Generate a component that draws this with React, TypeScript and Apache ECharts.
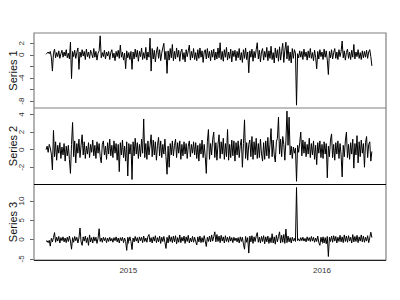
import React, { useEffect, useRef } from "react";
import * as echarts from "echarts";

const DAY = 86400000;
const startDate = Date.UTC(2014, 6, 30);
const stepDays = 2;

const seriesNames = ["Series 1", "Series 2", "Series 3"];

const series1 = [
  0.1, 0.3, 0.5, 0.2, 0.6, -0.4, -2.8, 0.3, 1.0, -0.5, 0.4, -0.3, 0.7, -0.6, 0.2, 0.8, -0.4, 0.5, -0.2, 0.9,
  -0.5, 0.3, -0.7, 2.2, -4.1, 0.6, -0.3, 0.8, -0.6, 0.4, 1.2, -2.5, 0.5, -0.4, 0.9, -0.2, 0.6, -0.8, 1.0, -0.3,
  0.5, -0.6, 0.8, 0.2, -0.5, 1.1, -0.4, 0.6, -0.9, 0.3, 0.7, 3.3, -0.5, 0.4, -0.3, 0.8, -0.7, 0.5, -0.2, 0.6,
  -0.8, 0.4, 0.9, -0.5, 0.3, -1.0, 0.6, -0.3, 0.8, -0.6, 1.7, -0.4, 0.5, -0.9, 0.3, -2.4, 0.7, -0.5, 0.4, -0.8,
  0.6, -2.5, 0.5, -0.7, 1.0, -0.4, 0.8, -1.1, 0.6, -0.3, 1.2, -0.8, 0.4, -0.6, 1.3, -0.9, 0.5, -0.4, 2.9, -2.8,
  1.1, -0.7, 0.8, -1.2, 0.5, 1.4, -0.6, 0.9, -1.0, 0.3, 1.2, 2.0, -0.8, 0.6, -3.2, 0.7, -0.9, 1.1, -0.5, 1.8,
  -1.0, 0.6, -0.7, 1.2, -0.4, 0.8, -1.1, 0.5, 1.0, -0.8, 0.4, -1.2, 0.9, -0.3, 0.7, 1.7, -0.9, 0.6, -0.5, 1.1,
  -0.8, 0.4, -1.0, 0.9, -0.6, 1.2, -0.4, 0.7, -1.3, 0.5, 0.9, -0.7, 1.1, -0.5, 0.6, -1.0, 0.8, -0.4, 1.0, -0.9,
  0.5, -0.7, 1.2, -0.5, 2.1, -0.8, 0.6, -1.1, 0.9, -0.4, 1.3, -0.9, 0.5, -0.6, 1.0, -1.2, 0.7, -0.3, 0.8, -1.0,
  0.6, -0.5, 1.1, -0.9, 0.4, -1.3, 0.9, -0.6, 1.2, -0.8, 0.5, -3.1, 0.7, -0.4, 1.0, -1.1, 0.6, -0.5, 0.9, 2.1,
  -0.7, 0.8, -1.2, 0.5, 1.1, -0.9, 0.6, -0.4, 1.3, -1.0, 0.7, -0.6, 1.5, -0.8, 0.4, -1.4, 1.2, -0.5, 0.9, -1.1,
  1.4, -0.9, 0.6, 2.0, -1.3, 0.8, 2.2, -0.7, 1.6, -1.0, 0.5, -1.4, 1.1, -0.6, 0.9, 0.3, -8.7, 0.2, -0.5, 0.7,
  -0.4, 0.6, -0.8, 1.0, -0.3, 0.5, -0.9, 0.7, -0.5, 1.1, -0.6, 0.4, -1.0, 0.8, -0.4, -2.4, 0.6, -0.7, 0.9, -0.3,
  0.5, -0.8, 1.0, -0.4, 0.7, -0.9, -3.4, 0.6, -0.5, 0.9, -0.7, 0.4, 1.1, -0.6, 0.5, -0.8, 0.9, -0.3, 0.6, 2.4,
  -0.5, 0.7, -0.9, 0.4, 1.0, -0.6, 0.5, -0.8, 0.8, -0.4, 1.8, -0.7, 0.5, -0.3, 0.9, -0.6, 0.4, -0.8, 0.7, -0.5,
  0.6, -0.4, 0.8, -0.6, 0.5, 0.9, -0.3, -1.9,
];

const series2 = [
  0.0, 0.4, -0.3, 0.6, 0.2, -0.5, -2.3, 2.2, -0.8, 0.9, -1.2, 0.5, -0.4, 0.8, -1.0, 0.3, -0.6, 0.7, -1.3, 0.4,
  -0.7, 0.5, -1.1, -2.7, 0.6, 3.1, -0.8, 1.0, -1.5, 0.7, -0.4, 1.2, -0.9, 0.5, 1.7, -0.6, 0.9, -1.0, 0.4, -0.5,
  0.8, -0.9, 0.6, -0.3, 1.1, -0.7, 0.5, -1.0, 0.9, -0.4, 0.7, -0.8, -1.5, 0.6, 1.0, -0.6, 0.4, -1.1, 0.8, -0.5,
  1.2, -0.7, 0.5, -0.9, 1.0, -0.4, 0.7, -1.2, 0.6, -2.5, 0.8, -0.6, 1.1, -0.9, 0.4, -1.3, 0.9, -3.0, 0.7, -0.5,
  0.6, -3.4, 0.9, -0.7, 1.3, -0.5, 0.8, -1.0, 0.6, -0.8, 1.2, -0.4, 3.5, -0.9, 0.7, -1.1, 1.0, -0.6, 0.5, 1.7,
  -0.8, 1.1, -0.6, 0.9, -1.2, 0.5, 1.4, -0.7, 1.0, -0.9, 0.6, -0.5, 1.2, -0.8, -2.8, 0.4, -2.0, 0.7, -0.6, 1.0,
  -0.7, 0.5, 1.2, -0.9, 0.8, -0.4, 1.0, -1.1, 0.6, -0.7, 0.9, -0.5, 0.7, -1.0, 0.4, 1.0, -0.8, 0.6, -0.4, 0.9,
  -0.6, 0.8, -1.0, 0.5, -1.3, 0.7, -0.5, 1.1, -0.9, 0.6, -0.8, -2.7, 0.9, 2.3, -1.1, 0.7, -0.6, 1.2, 2.0, -0.9,
  0.8, -1.2, 0.6, 1.7, -1.0, 0.9, -0.5, 1.3, -1.1, 0.7, -0.8, 2.3, -1.2, 0.6, -0.9, 1.1, -0.7, 1.0, -1.3, 0.8,
  -0.6, 1.0, -0.9, 0.5, 1.2, -2.0, 0.7, 3.4, -1.0, 0.8, -1.2, 0.6, 1.1, -0.8, 1.5, -1.1, 0.9, -0.6, 1.3, -1.0,
  0.7, -0.9, 1.2, -0.5, -1.3, 0.8, -1.1, 1.0, -0.7, 1.4, -1.0, 0.6, 2.4, -0.8, 1.1, -0.6, -1.4, 0.9, 1.3, 3.7,
  -0.5, 1.2, -0.8, 1.5, 0.6, -1.2, 1.0, 4.4, 0.5, 3.7, -0.6, 0.4, -1.0, 0.3, -0.4, 0.2, -3.6, 0.5, -0.3, 0.8,
  2.0, -0.7, 1.1, -0.4, 0.9, -0.8, 0.6, -0.5, 1.3, -0.9, 0.7, -0.6, 1.0, -1.1, 0.5, -1.7, 0.8, -0.4, 1.0, -0.9,
  0.6, -1.0, 0.9, -0.5, 0.7, -3.2, 0.4, -0.8, 1.1, 1.8, -0.9, 0.6, -1.2, 0.8, -0.5, 1.0, -1.0, 0.7, -0.6, -3.1,
  0.5, -0.8, 1.0, 2.0, -0.9, 0.6, -1.1, 0.8, -0.5, 1.2, -2.1, 0.7, -0.6, 1.6, -1.5, 0.9, -0.8, 1.1, -0.4, 0.7,
  -2.0, 0.8, 1.5, -0.9, 0.6, 0.9, -1.3, -0.2,
];

const series3 = [
  -0.5, -0.3, -0.8, -0.2, -1.7, 0.3, -0.6, 0.5, 1.8, -0.7, 0.6, -0.4, 0.8, -0.9, 0.5, -0.3, 0.7, -0.6, 0.4, -0.8,
  0.6, -0.5, 0.9, -0.4, -2.5, 0.5, -0.7, 0.8, -0.3, 0.6, -0.9, 0.4, 3.0, -0.6, -1.5, 0.7, -0.4, 0.9, -0.8, 0.5,
  -1.5, 1.2, -0.6, 0.5, -0.9, 0.7, -0.4, 0.6, -1.0, 0.3, 2.8, -0.5, 0.4, -0.7, 0.6, -0.3, 0.5, -0.8, 0.4, -0.5,
  0.6, -0.4, 0.3, -0.7, 0.5, -0.3, 0.7, -0.6, 0.4, -0.9, 0.5, -0.3, 0.6, -0.8, 0.4, -0.5, -2.8, 0.6, -0.4, 0.7,
  -0.5, -2.6, 0.4, -0.6, 0.8, -0.4, 0.5, -0.9, 0.7, -0.3, 0.6, -0.8, 0.9, -0.5, 0.4, -0.7, 0.8, 1.3, -0.6, 0.5,
  -0.9, 0.7, -0.4, 1.0, -0.8, 0.5, -0.6, 0.9, -1.0, 0.6, -0.5, 0.8, -0.7, -2.3, 0.6, -0.9, 1.1, -0.5, 0.7, -0.8,
  0.9, -0.6, 1.0, -1.1, 0.5, -0.7, 1.2, -0.8, 0.6, -0.4, 0.9, -1.0, 0.7, -0.5, 1.1, -0.9, 0.4, -0.6, 0.8, -0.7,
  0.6, -0.5, -1.4, 0.7, -0.6, 0.9, -0.8, 0.5, -0.7, 1.0, -0.4, -1.8, 0.6, -0.5, 0.9, -0.6, 1.2, -0.4, 0.8, 2.0,
  -0.6, 1.3, -0.5, 0.9, -0.8, 1.1, -0.4, 0.7, -0.9, 1.0, -0.5, 0.6, -0.7, 0.8, -0.4, 0.5, -0.8, 0.6, -0.3, 0.4,
  -0.6, 0.5, -0.9, 0.7, -0.5, 0.6, -1.2, -2.5, 0.8, -0.7, 0.5, -3.5, 0.9, -0.6, 1.0, -1.0, 0.7, -0.5, 0.9, 1.8,
  -0.7, 0.6, -0.9, 0.8, -0.5, 1.0, -1.1, 0.7, -0.6, 0.9, -1.0, 0.5, -0.8, 1.5, -0.9, 0.7, -1.2, 1.1, -0.6, 0.8,
  2.0, -0.9, 1.1, -0.7, 1.3, -1.0, 2.7, -0.8, 0.9, -0.6, 0.5, -0.9, 0.6, -0.4, 0.3, -0.5, 13.5, -0.3, 0.2, -0.4,
  0.5, -0.3, 0.6, -0.4, 0.3, -0.6, 0.7, -0.3, 0.5, -0.5, 0.8, -0.4, 0.6, -0.7, 0.4, -0.5, 0.9, -0.8, -1.5, 0.6,
  -0.6, 0.7, -0.9, 0.5, -1.1, 0.8, -4.4, 0.6, -0.5, 0.9, -0.7, 1.0, -0.4, 0.8, -0.9, 0.6, -0.5, 1.1, -0.6, 0.7,
  -0.8, 1.2, -0.5, 0.9, -0.7, 1.0, -0.4, 0.6, -0.9, 1.3, -0.6, 0.8, -0.5, 1.1, -0.8, 0.7, -0.4, 1.2, -0.6, 0.9,
  -0.7, 0.6, -0.4, 1.0, -0.8, 0.5, 1.9, 0.5,
];

const allSeries = [series1, series2, series3];

const yearTicks = [2015, 2016];
const yTicks = [
  [-8, -6, -4, -2, 0, 2],
  [-2, 0, 2, 4],
  [-5, 0, 5, 10],
];
const yLabels = [
  [-8, -4, 0, 2],
  [-2, 0, 2, 4],
  [-5, 0, 5, 10],
];
const yRanges = [
  [-9.19, 3.79],
  [-3.91, 4.75],
  [-5.3, 14.4],
];

const FONT = "Liberation Sans, Arial, Helvetica, sans-serif";

export default function App() {
  const ref = useRef<HTMLDivElement>(null);

  useEffect(() => {
    if (!ref.current) return;
    const chart = echarts.init(ref.current, null, { renderer: "svg" });

    const left = 34;
    const width = 352;
    const gridTops = [33, 108, 184];
    const gridHeights = [75, 76, 76];

    const xMin = Date.UTC(2015, 0, 1) - 177.7 * DAY;
    const xMax = Date.UTC(2016, 0, 1) + 120.6 * DAY;
    const yearValues = yearTicks.map((y) => Date.UTC(y, 0, 1));

    const grids = gridTops.map((t, k) => ({
      left,
      top: t,
      width,
      height: gridHeights[k],
      show: false,
      containLabel: false,
      outerBoundsMode: "none",
    }));

    const xAxes = gridTops.map((_, k) => ({
      gridIndex: k,
      type: "value",
      min: xMin,
      max: xMax,
      show: k === 2,
      axisLine: { show: false },
      axisTick: {
        show: k === 2,
        length: 4,
        customValues: yearValues,
        lineStyle: { color: "#333", width: 1 },
      },
      axisLabel: {
        show: k === 2,
        customValues: yearValues,
        formatter: (v: number) => String(new Date(v + DAY).getUTCFullYear()),
        fontSize: 8,
        color: "#333",
        fontFamily: FONT,
        margin: 6,
      },
      splitLine: { show: false },
    }));

    const yAxes = gridTops.map((_, k) => ({
      gridIndex: k,
      type: "value",
      min: yRanges[k][0],
      max: yRanges[k][1],
      name: seriesNames[k],
      nameLocation: "middle",
      nameGap: 16,
      nameMoveOverlap: false,
      nameRotate: 90,
      nameTextStyle: { fontSize: 11, color: "#111", fontFamily: FONT },
      axisLine: { show: false },
      axisTick: {
        show: true,
        length: 4,
        customValues: yTicks[k],
        lineStyle: { color: "#666", width: 1 },
      },
      axisLabel: {
        customValues: yLabels[k],
        rotate: 90,
        fontSize: 8,
        color: "#333",
        fontFamily: FONT,
        margin: 9,
      },
      splitLine: { show: false },
    }));

    const series = allSeries.map((vals, k) => ({
      type: "line",
      xAxisIndex: k,
      yAxisIndex: k,
      showSymbol: false,
      symbol: "none",
      lineStyle: { color: "#000", width: 1 },
      data: vals.map((v, i) => [startDate + i * stepDays * DAY, v]),
    }));

    chart.setOption({
      animation: false,
      backgroundColor: "#fff",
      grid: grids,
      xAxis: xAxes,
      yAxis: yAxes,
      series,
      graphic: [
        {
          type: "rect",
          shape: { x: 34, y: 33, width: 352, height: 227 },
          style: { fill: "none", stroke: "#808080", lineWidth: 1.2 },
          silent: true,
          z: 100,
        },
        {
          type: "line",
          shape: { x1: 34, y1: 108, x2: 386, y2: 108 },
          style: { stroke: "#808080", lineWidth: 1.2 },
          silent: true,
          z: 100,
        },
        {
          type: "line",
          shape: { x1: 34, y1: 184.5, x2: 386, y2: 184.5 },
          style: { stroke: "#000", lineWidth: 1 },
          silent: true,
          z: 100,
        },
        {
          type: "line",
          shape: { x1: 34, y1: 260.5, x2: 386, y2: 260.5 },
          style: { stroke: "#222", lineWidth: 1 },
          silent: true,
          z: 100,
        },
      ],
    });

    return () => chart.dispose();
  }, []);

  return (
    <div
      ref={ref}
      style={{ position: "absolute", left: 0, top: 0, width: 400, height: 300, background: "#fff" }}
    />
  );
}
